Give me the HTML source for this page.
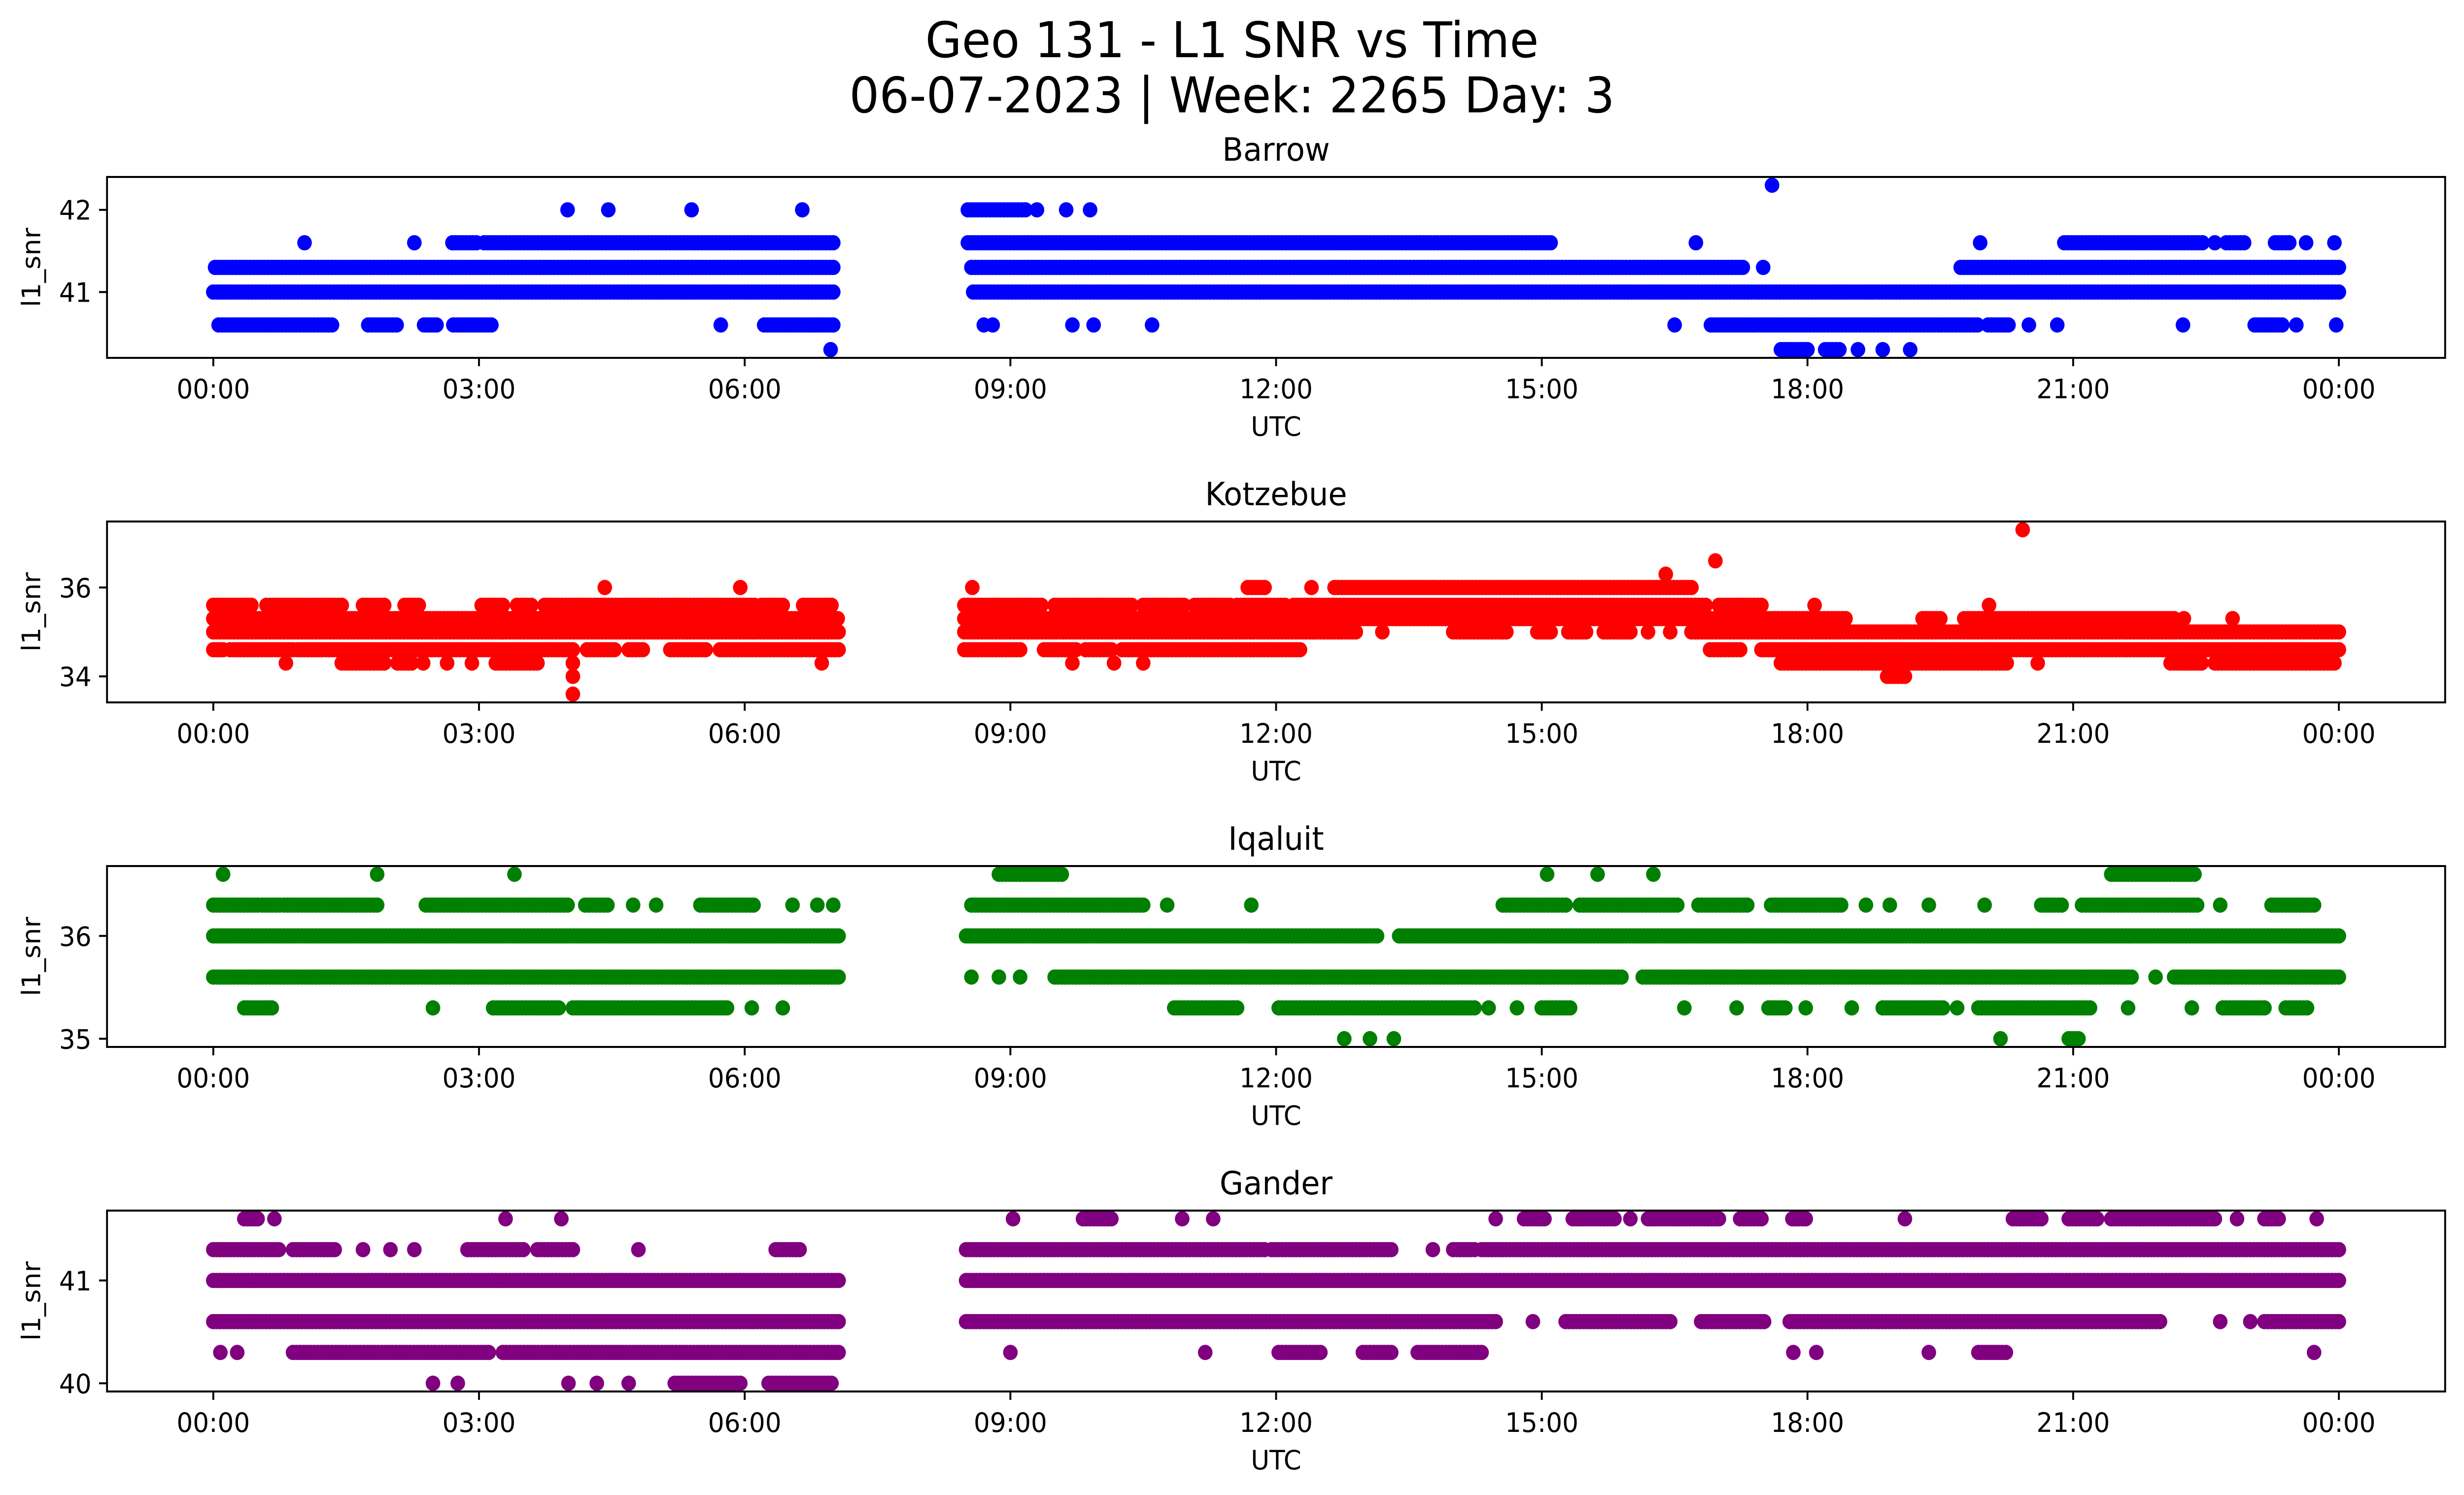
<!DOCTYPE html>
<html><head><meta charset="utf-8"><style>
html,body{margin:0;padding:0;background:#fff;overflow:hidden;width:100%;height:100%;}
svg{display:block;width:100vw;height:100vh;font-family:"DejaVu Sans","Liberation Sans",sans-serif;}
</style></head><body>
<svg id="fig" xmlns="http://www.w3.org/2000/svg" viewBox="0 0 5226 3033" preserveAspectRatio="none">
<rect x="0" y="0" width="5226" height="3033" fill="#fff"/>
<text x="2613" y="116" font-size="100" text-anchor="middle">Geo 131 - L1 SNR vs Time</text>
<text x="2613" y="228" font-size="100" text-anchor="middle">06-07-2023 | Week: 2265 Day: 3</text>
</svg>
<script>
// ---- data (hours UTC, SNR level) : runs [level, startHour, endHour] ----
const panelNames = ["Barrow","Kotzebue","Iqaluit","Gander"];
const panelColors = ["#0000ff","#ff0000","#008000","#800080"];
const xTickHours = [0,3,6,9,12,15,18,21,24];
const xTickLabels = ["00:00","03:00","06:00","09:00","12:00","15:00","18:00","21:00","00:00"];
const barrowTicks = [41,42];
const kotzebueTicks = [34,36];
const iqaluitTicks = [35,36];
const ganderTicks = [40,41];
const barrowRuns = [
[42.3,17.6,17.6],
[42.0,4.0,4.0],[42.0,4.46,4.46],[42.0,5.4,5.4],[42.0,6.65,6.65],[42.0,8.52,9.17],[42.0,9.3,9.3],[42.0,9.63,9.63],[42.0,9.9,9.9],
[41.6,1.03,1.03],[41.6,2.27,2.27],[41.6,2.7,2.97],[41.6,3.06,3.83],[41.6,3.87,7.0],[41.6,8.52,15.1],[41.6,16.74,16.74],[41.6,19.95,19.95],[41.6,20.9,22.46],[41.6,22.6,22.6],[41.6,22.73,22.93],[41.6,23.28,23.44],[41.6,23.63,23.63],[41.6,23.95,23.95],
[41.3,0.02,7.0],[41.3,8.56,17.27],[41.3,17.5,17.5],[41.3,19.73,24.0],
[41.0,0.0,7.0],[41.0,8.58,24.0],
[40.6,0.06,1.34],[40.6,1.75,2.07],[40.6,2.38,2.52],[40.6,2.71,3.14],[40.6,5.73,5.73],[40.6,6.22,7.0],[40.6,8.7,8.7],[40.6,8.8,8.8],[40.6,9.7,9.7],[40.6,9.94,9.94],[40.6,10.6,10.6],[40.6,16.5,16.5],[40.6,16.91,19.92],[40.6,20.04,20.27],[40.6,20.5,20.5],[40.6,20.82,20.82],[40.6,22.24,22.24],[40.6,23.05,23.36],[40.6,23.52,23.52],[40.6,23.97,23.97],
[40.3,6.97,6.97],[40.3,17.7,18.0],[40.3,18.2,18.36],[40.3,18.57,18.57],[40.3,18.85,18.85],[40.3,19.16,19.16]
];
const kotzebueRuns = [
[37.3,20.43,20.43],[36.6,16.96,16.96],[36.3,16.4,16.4],
[36.0,4.42,4.42],[36.0,5.95,5.95],[36.0,8.57,8.57],[36.0,11.68,11.87],[36.0,12.4,12.4],[36.0,12.66,16.69],
[35.6,0.0,0.43],[35.6,0.6,1.45],[35.6,1.69,1.93],[35.6,2.16,2.32],[35.6,3.03,3.27],[35.6,3.43,3.59],[35.6,3.74,6.11],[35.6,6.19,6.43],[35.6,6.66,6.98],
[35.6,8.48,9.35],[35.6,9.5,10.37],[35.6,10.5,10.96],[35.6,11.08,11.48],[35.6,11.56,12.1],[35.6,12.2,16.85],[35.6,17.0,17.48],[35.6,18.08,18.08],[35.6,20.05,20.05],
[35.3,0.0,7.05],[35.3,8.48,18.43],[35.3,19.3,19.5],[35.3,19.77,22.14],[35.3,22.25,22.25],[35.3,22.8,22.8],
[35.0,0.0,7.06],[35.0,8.48,12.9],[35.0,13.2,13.2],[35.0,14.0,14.6],[35.0,14.95,15.1],[35.0,15.3,15.5],[35.0,15.7,16.0],[35.0,16.2,16.2],[35.0,16.45,16.45],[35.0,16.69,24.0],
[34.6,0.0,0.11],[34.6,0.19,0.9],[34.6,0.95,4.06],[34.6,4.22,4.53],[34.6,4.69,4.85],[34.6,5.16,5.56],[34.6,5.72,7.06],[34.6,8.48,9.11],[34.6,9.38,9.74],[34.6,9.85,10.14],[34.6,10.26,12.27],[34.6,16.9,17.24],[34.6,17.48,24.0],
[34.3,0.82,0.82],[34.3,1.45,1.93],[34.3,2.08,2.24],[34.3,2.37,2.37],[34.3,2.64,2.64],[34.3,2.92,2.92],[34.3,3.19,3.66],[34.3,4.06,4.06],[34.3,6.87,6.87],[34.3,9.7,9.7],[34.3,10.17,10.17],[34.3,10.5,10.5],[34.3,17.7,20.25],[34.3,20.6,20.6],[34.3,22.1,22.45],[34.3,22.6,23.95],
[34.0,4.06,4.06],[34.0,18.9,19.1],
[33.6,4.06,4.06]
];
const iqaluitRuns = [
[36.6,0.11,0.11],[36.6,1.85,1.85],[36.6,3.4,3.4],[36.6,8.87,9.58],[36.6,15.06,15.06],[36.6,15.63,15.63],[36.6,16.26,16.26],[36.6,21.43,22.37],
[36.3,0.0,0.5],[36.3,0.55,0.75],[36.3,0.8,1.85],[36.3,2.4,4.0],[36.3,4.2,4.45],[36.3,4.74,4.74],[36.3,5.0,5.0],[36.3,5.5,6.1],[36.3,6.54,6.54],[36.3,6.82,6.82],[36.3,7.0,7.0],
[36.3,8.56,10.5],[36.3,10.77,10.77],[36.3,11.72,11.72],[36.3,14.56,15.27],[36.3,15.43,16.53],[36.3,16.77,17.32],[36.3,17.59,18.38],[36.3,18.66,18.66],[36.3,18.93,18.93],[36.3,19.37,19.37],[36.3,20.0,20.0],[36.3,20.64,20.87],[36.3,21.1,22.4],[36.3,22.66,22.66],[36.3,23.24,23.72],
[36.0,0.0,7.06],[36.0,8.5,13.14],[36.0,13.39,24.0],
[35.6,0.0,7.06],[35.6,8.56,8.56],[35.6,8.87,8.87],[35.6,9.11,9.11],[35.6,9.5,15.9],[35.6,16.14,21.66],[35.6,21.93,21.93],[35.6,22.14,24.0],
[35.3,0.35,0.66],[35.3,2.48,2.48],[35.3,3.16,3.9],[35.3,4.06,5.8],[35.3,6.08,6.08],[35.3,6.43,6.43],[35.3,10.85,11.56],[35.3,12.03,14.24],[35.3,14.4,14.4],[35.3,14.72,14.72],[35.3,15.0,15.32],[35.3,16.61,16.61],[35.3,17.2,17.2],[35.3,17.56,17.75],[35.3,17.98,17.98],[35.3,18.5,18.5],[35.3,18.85,19.53],[35.3,19.69,19.69],[35.3,19.93,21.19],[35.3,21.62,21.62],[35.3,22.34,22.34],[35.3,22.69,23.16],[35.3,23.4,23.64],
[35.0,12.77,12.77],[35.0,13.06,13.06],[35.0,13.33,13.33],[35.0,20.18,20.18],[35.0,20.95,21.06]
];
const ganderRuns = [
[41.6,0.35,0.5],[41.6,0.69,0.69],[41.6,3.3,3.3],[41.6,3.93,3.93],[41.6,9.03,9.03],[41.6,9.82,10.14],[41.6,10.94,10.94],[41.6,11.29,11.29],[41.6,14.48,14.48],[41.6,14.8,15.03],[41.6,15.35,15.82],[41.6,16.0,16.0],[41.6,16.2,17.0],[41.6,17.24,17.48],[41.6,17.83,17.98],[41.6,19.1,19.1],[41.6,20.32,20.64],[41.6,20.95,21.27],[41.6,21.43,22.6],[41.6,22.85,22.85],[41.6,23.16,23.32],[41.6,23.75,23.75],
[41.3,0.0,0.74],[41.3,0.9,1.37],[41.3,1.69,1.69],[41.3,2.0,2.0],[41.3,2.27,2.27],[41.3,2.87,3.5],[41.3,3.66,4.06],[41.3,4.8,4.8],[41.3,6.35,6.62],[41.3,8.5,11.87],[41.3,11.95,13.3],[41.3,13.77,13.77],[41.3,14.0,14.24],[41.3,14.32,24.0],
[41.0,0.0,7.06],[41.0,8.5,24.0],
[40.6,0.0,7.06],[40.6,8.5,14.48],[40.6,14.9,14.9],[40.6,15.27,16.45],[40.6,16.8,17.51],[40.6,17.8,21.98],[40.6,22.66,22.66],[40.6,23.0,23.0],[40.6,23.16,24.0],
[40.3,0.08,0.08],[40.3,0.27,0.27],[40.3,0.9,3.11],[40.3,3.27,7.06],[40.3,9.0,9.0],[40.3,11.2,11.2],[40.3,12.03,12.5],[40.3,12.98,13.3],[40.3,13.6,14.32],[40.3,17.84,17.84],[40.3,18.1,18.1],[40.3,19.37,19.37],[40.3,19.93,20.24],[40.3,23.72,23.72],
[40.0,2.48,2.48],[40.0,2.76,2.76],[40.0,4.01,4.01],[40.0,4.33,4.33],[40.0,4.69,4.69],[40.0,5.21,5.95],[40.0,6.27,6.98]
];
const allRuns = [barrowRuns,kotzebueRuns,iqaluitRuns,ganderRuns];
const allTicks = [barrowTicks,kotzebueTicks,iqaluitTicks,ganderTicks];

// ---- layout ----
const NS = "http://www.w3.org/2000/svg";
const svg = document.getElementById("fig");
const AX_L = 227, AX_R = 5186, AX_H = 367;
const AX_TOPS = [359,1058,1757,2456];
const X_MIN = -1.2, X_MAX = 25.2;
function xScale(h){ return AX_L + (h - X_MIN) / (X_MAX - X_MIN) * (AX_R - AX_L); }
function mk(tag, attrs){ const e = document.createElementNS(NS, tag); for (const k in attrs) e.setAttribute(k, attrs[k]); return e; }

allRuns.forEach((runs, p) => {
  const top = AX_TOPS[p], bot = top + AX_H;
  let lo = Infinity, hi = -Infinity;
  runs.forEach(r => { lo = Math.min(lo, r[0]); hi = Math.max(hi, r[0]); });
  const pad = (hi - lo) * 0.05;
  const yMin = lo - pad, yMax = hi + pad;
  const yScale = v => bot - (v - yMin) / (yMax - yMin) * AX_H;

  const g = mk("g", {});
  
  
  svg.appendChild(g);

  const title = mk("text", {x: (AX_L + AX_R) / 2, y: top - 33, "font-size": 65, "text-anchor": "middle"});
  
  
  title.textContent = panelNames[p];
  g.appendChild(title);

  const pts = mk("g", {fill: panelColors[p]});
  
  
  g.appendChild(pts);
  runs.forEach(r => {
    const n = Math.max(1, Math.round((r[2] - r[1]) / 0.04) + 1);
    for (let i = 0; i < n; i++) {
      const h = n === 1 ? r[1] : r[1] + (r[2] - r[1]) * i / (n - 1);
      const c = mk("circle", {cx: xScale(h).toFixed(1), cy: yScale(r[0]).toFixed(1), r: 15.5});
      
      
      pts.appendChild(c);
    }
  });

  const frame = mk("rect", {x: AX_L, y: top, width: AX_R - AX_L, height: AX_H, fill: "none", stroke: "#000", "stroke-width": 4});
  
  
  g.appendChild(frame);

  xTickHours.forEach((h, i) => {
    const x = xScale(h);
    const t = mk("line", {x1: x, x2: x, y1: bot, y2: bot + 17, stroke: "#000", "stroke-width": 4});
    
    
    g.appendChild(t);
    const l = mk("text", {x: x, y: bot + 82, "font-size": 54, "text-anchor": "middle"});
    
    
    l.textContent = xTickLabels[i];
    g.appendChild(l);
  });
  const xl = mk("text", {x: (AX_L + AX_R) / 2, y: bot + 158, "font-size": 54, "text-anchor": "middle"});
  
  
  xl.textContent = "UTC";
  g.appendChild(xl);

  allTicks[p].forEach(v => {
    const y = yScale(v);
    const t = mk("line", {x1: AX_L - 17, x2: AX_L, y1: y, y2: y, stroke: "#000", "stroke-width": 4});
    
    
    g.appendChild(t);
    const l = mk("text", {x: 194, y: y + 20, "font-size": 54, "text-anchor": "end"});
    
    
    l.textContent = String(v);
    g.appendChild(l);
  });
  const cy = top + AX_H / 2;
  const yl = mk("text", {x: 85, y: cy, "font-size": 54, "text-anchor": "middle", transform: "rotate(-90 85 " + cy + ")"});
  
  
  yl.textContent = "l1_snr";
  g.appendChild(yl);
});
</script>
</body></html>
